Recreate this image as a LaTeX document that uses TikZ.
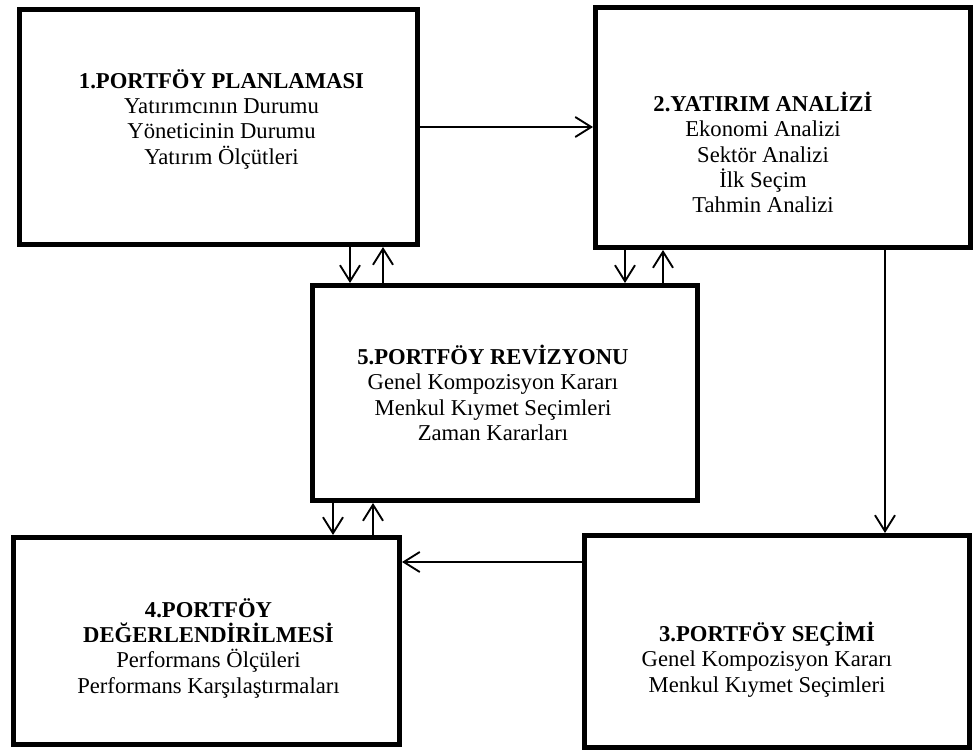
\documentclass[tikz,border=0pt]{standalone}
\usepackage{fontspec}
\setmainfont{Liberation Serif}
\usepackage{tikz}
\usetikzlibrary{arrows.meta,positioning,calc}

\begin{document}
\begin{tikzpicture}[x=0.75pt,y=-0.75pt,
		box/.style={draw,rectangle,line width=3.75pt},
		txt/.style={align=center,font=\fontsize{17}{19}\selectfont},
		arr/.style={-{Straight Barb[length=12pt,width=15pt]},line width=1.4pt}]
		\useasboundingbox (0,0) rectangle (975,752);

		\node[box,minimum width=298.5pt,minimum height=176.25pt] (b1) at (218.5,127) {};
		\node[box,minimum width=281.25pt,minimum height=180pt] (b2) at (783,127.5) {};
		\node[box,minimum width=288.75pt,minimum height=161.25pt] (b5) at (505,393) {};
		\node[box,minimum width=289.5pt,minimum height=155.25pt] (b4) at (206.5,641) {};
		\node[box,minimum width=288.75pt,minimum height=159pt] (b3) at (777,641.5) {};

		\node[txt] (t1) at ($(b1)+(3,-8)$) {\textbf{1.PORTFÖY PLANLAMASI}\\Yatırımcının Durumu\\Yöneticinin Durumu\\Yatırım Ölçütleri};
		\node[txt] (t2) at ($(b2)+(-20,25)$) {\textbf{2.YATIRIM ANALİZİ}\\Ekonomi Analizi\\Sektör Analizi\\İlk Seçim\\Tahmin Analizi};
		\node[txt] (t5) at ($(b5)+(-12,0)$) {\textbf{5.PORTFÖY REVİZYONU}\\Genel Kompozisyon Kararı\\Menkul Kıymet Seçimleri\\Zaman Kararları};
		\node[txt] (t4) at ($(b4)+(2,7)$) {\textbf{4.PORTFÖY}\\\textbf{DEĞERLENDİRİLMESİ}\\Performans Ölçüleri\\Performans Karşılaştırmaları};
		\node[txt] (t3) at ($(b3)+(-10,18)$) {\textbf{3.PORTFÖY SEÇİMİ}\\Genel Kompozisyon Kararı\\Menkul Kıymet Seçimleri};

		% x positions of the vertical arrows
		\coordinate (a1) at (350,0);
		\coordinate (a2) at (383,0);
		\coordinate (a3) at (625,0);
		\coordinate (a4) at (663,0);
		\coordinate (a5) at (333,0);
		\coordinate (a6) at (373,0);
		\coordinate (a7) at (885,0);
		\coordinate (h1) at (0,127);
		\coordinate (h2) at (0,562);

		\draw[arr] (b1.east |- h1) -- (b2.west |- h1);
		\draw[arr] (b2.south -| a7) -- (b3.north -| a7);
		\draw[arr] (b3.west |- h2) -- (b4.east |- h2);
		\draw[arr] (b1.south -| a1) -- (b5.north -| a1);
		\draw[arr] (b5.north -| a2) -- (b1.south -| a2);
		\draw[arr] (b2.south -| a3) -- (b5.north -| a3);
		\draw[arr] (b5.north -| a4) -- (b2.south -| a4);
		\draw[arr] (b5.south -| a5) -- (b4.north -| a5);
		\draw[arr] (b4.north -| a6) -- (b5.south -| a6);
	\end{tikzpicture}
\end{document}
